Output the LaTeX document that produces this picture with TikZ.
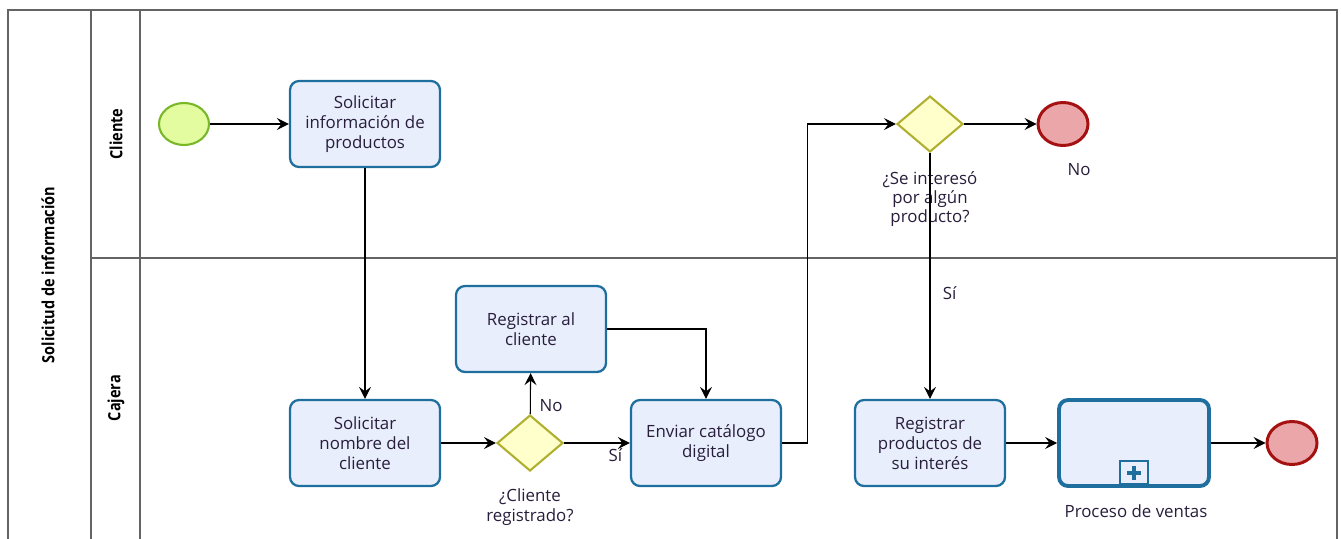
\documentclass[tikz,border=0pt]{standalone}
\usepackage{fontspec}
\setmainfont{Open Sans}
\usetikzlibrary{arrows.meta,positioning,shapes.geometric}
\definecolor{taskblue}{RGB}{31,111,158}
\definecolor{taskfill}{RGB}{232,238,252}
\definecolor{gateline}{RGB}{176,176,48}
\definecolor{gatefill}{RGB}{255,255,204}
\definecolor{startline}{RGB}{120,184,40}
\definecolor{startfill}{RGB}{228,252,160}
\definecolor{endline}{RGB}{165,16,16}
\definecolor{endfill}{RGB}{234,166,168}
\definecolor{lanegray}{RGB}{100,100,100}
\definecolor{txt}{RGB}{40,30,60}
\newcommand{\narrowtxt}[1]{\scalebox{0.86}[1]{#1}}

\begin{document}
\begin{tikzpicture}[x=0.02cm, y=-0.02cm,
    task/.style={rectangle, rounded corners=0.18cm, draw=taskblue, fill=taskfill, line width=1.3pt, minimum width=3cm, minimum height=1.72cm, align=center, text=txt, font=\fontsize{9.6}{11.4}\selectfont},
    subproc/.style={task, line width=2.2pt},
    gate/.style={diamond, draw=gateline, fill=gatefill, line width=1.2pt, minimum width=1.32cm, minimum height=1.12cm, inner sep=0pt, aspect=1.18},
    startev/.style={ellipse, draw=startline, fill=startfill, line width=1.2pt, minimum width=1cm, minimum height=0.84cm, inner sep=0pt},
    endev/.style={ellipse, draw=endline, fill=endfill, line width=1.7pt, minimum width=1cm, minimum height=0.86cm, inner sep=0pt},
    lbl/.style={align=center, text=txt, font=\fontsize{9.6}{11}\selectfont, inner sep=1pt},
    lane/.style={draw=lanegray, line width=0.6pt},
    lanelbl/.style={rotate=90, font=\bfseries\fontsize{9.6}{10}\selectfont},
    flow/.style={-{Stealth[length=2.4mm, width=2.4mm, inset=0.9mm]}, line width=0.6pt, black}
]
    \useasboundingbox (0,0) rectangle (1341,538);

    % pool and lanes
    \draw[lane] (8,545) -- (8,10) -- (1337,10) -- (1337,545);
    \draw[lane] (91,10) -- (91,545);
    \draw[lane] (140,10) -- (140,545);
    \draw[lane] (91,258) -- (1337,258);
    \node[lanelbl] (pool) at (48,275) {\narrowtxt{Solicitud de información}};
    \node[lanelbl] (laneclient) at (116,134) {\narrowtxt{Cliente}};
    \node[lanelbl] (lanecashier) at (116,398) {\narrowtxt{Cajera}};

    % cliente
    \node[startev] (start) at (184,124) {};
    \node[task] (ask) at (365,124) {Solicitar\\información de\\productos};
    \node[gate] (interest) at (930,124) {};
    \node[lbl] (interestlbl) at (930,199) {¿Se interesó\\por algún\\producto?};
    \node[endev] (endno) at (1063,124) {};
    \node[lbl] (endnolbl) at (1079,170) {No};

    % cajera
    \node[task] (name) at (365,443) {Solicitar\\nombre del\\cliente};
    \node[gate] (registered) at (530,443) {};
    \node[lbl] (registeredlbl) at (530,507) {¿Cliente\\registrado?};
    \node[task] (register) at (531,329) {Registrar al\\cliente};
    \node[task] (send) at (706,443) {Enviar catálogo\\digital};
    \node[task] (products) at (930,443) {Registrar\\productos de\\su interés};
    \node[subproc] (sales) at (1134,443) {};
    \node[draw=taskblue, fill=taskfill, line width=1.2pt, minimum width=0.56cm, minimum height=0.46cm, inner sep=0pt, anchor=south] (salesmark) at ([yshift=0.06cm]sales.south) {};
    \draw[taskblue, line width=2.4pt] (salesmark.center) ++(-7,1) -- ++(14,0) (salesmark.center) ++(0,-6) -- ++(0,14);
    \node[lbl] (saleslbl) at (1136,511) {Proceso de ventas};
    \node[endev] (endok) at (1292,443) {};

    % flujos
    \draw[flow] (start) -- (ask);
    \draw[flow] (ask) -- (name);
    \draw[flow] (name) -- (registered);
    \draw[flow] (registered) -- node[lbl, pos=0.78, below=2pt] {Sí} (send);
    \draw[flow] (registered) -- node[lbl, pos=0.2, right=4pt] {No} (register);
    \draw[flow] (register.east) -| (send.north);
    \draw[flow] (send.east) -- ++(25,0) |- (interest.west);
    \draw[flow] (interest) -- (endno);
    \draw[flow] (interest) -- node[lbl, pos=0.57, right=6pt] {Sí} (products);
    \draw[flow] (products) -- (sales);
    \draw[flow] (sales) -- (endok);
\end{tikzpicture}
\end{document}
